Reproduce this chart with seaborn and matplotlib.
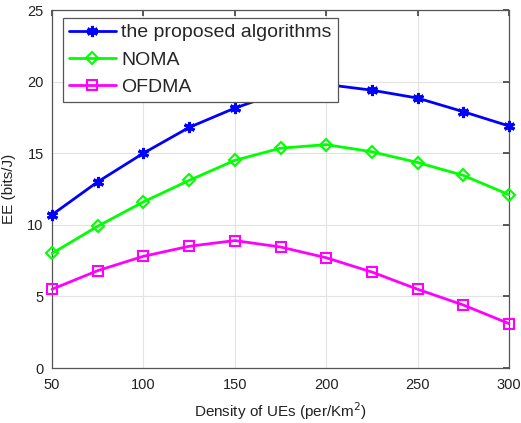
import numpy as np
import pandas as pd
import seaborn as sns
import matplotlib.pyplot as plt

# Data
density = [50, 75, 100, 125, 150, 175, 200, 225, 250, 275, 300]
ee_proposed = [10.7, 13.0, 15.0, 16.8, 18.15, 19.25, 19.8, 19.4, 18.85, 17.9, 16.9]
ee_noma = [8.0, 9.9, 11.6, 13.1, 14.5, 15.35, 15.6, 15.1, 14.35, 13.45, 12.1]
ee_ofdma = [5.5, 6.8, 7.8, 8.5, 8.9, 8.45, 7.7, 6.7, 5.5, 4.4, 3.1]
labels = ["the proposed algorithms", "NOMA", "OFDMA"]

series = [ee_proposed, ee_noma, ee_ofdma]
df = pd.concat(
    [pd.DataFrame({"density": density, "EE": s, "scheme": lab}) for s, lab in zip(series, labels)]
)

sns.set_theme(style="whitegrid")
plt.rcParams["font.family"] = ["Liberation Sans", "DejaVu Sans"]
plt.rcParams["xtick.direction"] = "in"
plt.rcParams["ytick.direction"] = "in"

colors = ["#0000ff", "#00ff00", "#ff00ff"]
markers = [(6, 2, 0), "D", "s"]

fig = plt.figure(figsize=(5.21, 4.23), dpi=100)
ax = fig.add_axes([52 / 521, 1 - 368 / 423, 457 / 521, 358 / 423])

for lab, c, m in zip(labels, colors, markers):
    sub = df[df["scheme"] == lab]
    if m == "D":
        ms = 6
    elif m == "s":
        ms = 6.5
    else:
        ms = 8
    sns.lineplot(data=sub, x="density", y="EE", ax=ax, color=c, linewidth=2,
                 marker=m, markersize=ms, markerfacecolor="none", markeredgecolor=c,
                 markeredgewidth=2.2 if m == (6, 2, 0) else 1.5, label=lab,
                 clip_on=False, zorder=3)

ax.set_xlim(50, 300)
ax.set_ylim(0, 25)
ax.set_xticks([50, 100, 150, 200, 250, 300])
ax.set_yticks([0, 5, 10, 15, 20, 25])
ax.tick_params(labelsize=10.5, length=4, color="#444444", top=True, right=True,
               colors="#222222")
ax.tick_params(axis="x", pad=7)
ax.tick_params(axis="y", pad=6)
ax.grid(True, color="#e3e3e3", linewidth=0.8)
for sp in ax.spines.values():
    sp.set_color("#555555")
    sp.set_linewidth(0.9)
ax.set_facecolor("white")

ax.set_xlabel("Density of UEs (per/Km$^2$)", fontsize=11, color="#222222", labelpad=6)
ax.set_ylabel("EE (bits/J)", fontsize=11, color="#222222", labelpad=8)

leg = ax.legend(loc="upper left", bbox_to_anchor=(11 / 457, 1 - 8 / 358), fontsize=14,
                frameon=True, fancybox=False, framealpha=1, edgecolor="#555555",
                handlelength=2.4, borderpad=0.3, labelspacing=0.5, handletextpad=0.3,
                borderaxespad=0)
leg.get_frame().set_linewidth(0.9)
leg.set_zorder(5)

fig.savefig("out.png", dpi=100)
